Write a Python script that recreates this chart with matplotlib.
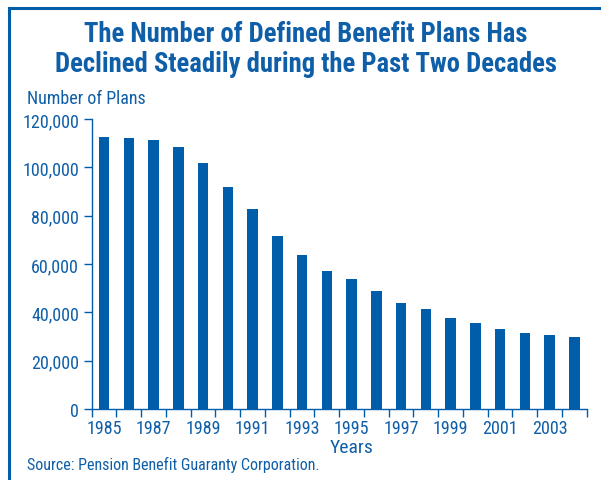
import matplotlib.pyplot as plt
from matplotlib.lines import Line2D
from matplotlib.ticker import FuncFormatter
from matplotlib import font_manager as fm

# данные
years = list(range(1985, 2005))
plans = [112500, 112100, 111300, 108400, 101800, 91900, 82800, 71600, 63700, 57100,
         53800, 48800, 43900, 41400, 37700, 35600, 33100, 31400, 30600, 29800]
label_years = [str(y) for y in years if y % 2 == 1]

BLUE = '#005DAA'
TEXT = '#0F5FA8'


def find_narrow(bold):
    # ищем узкий шрифт среди установленных
    prefs = ['Liberation Sans Narrow', 'Roboto Condensed', 'Open Sans Condensed',
             'DejaVu Sans']
    for name in prefs:
        for f in fm.fontManager.ttflist:
            fn = f.fname.lower()
            is_narrow = 'narrow' in fn or 'condensed' in fn or f.stretch in ('condensed', 'semi-condensed')
            is_bold = f.weight in ('bold', 700) or 'bold' in fn
            is_ital = 'italic' in fn or 'oblique' in fn
            if f.name == name and is_narrow and is_bold == bold and not is_ital:
                return f.fname
    return None


reg_path = find_narrow(False)
bold_path = find_narrow(True)


def fp(size, bold=False):
    path = bold_path if bold else reg_path
    if path:
        return fm.FontProperties(fname=path, size=size)
    return fm.FontProperties(family='DejaVu Sans', size=size,
                             weight='bold' if bold else 'normal')


fig = plt.figure(figsize=(6.01, 4.81), dpi=100)
ax = fig.add_axes([91.7 / 601, 1 - 410 / 481, 495 / 601, 290 / 481])

pos = list(range(len(years)))
ax.bar(pos, plans, width=0.43, color=BLUE)

ax.set_xlim(-0.5, len(years) - 0.5)
ax.set_ylim(0, 120000)

# риски по границам категорий, подписи по центрам столбцов
ax.set_xticks([p - 0.5 for p in pos] + [len(years) - 0.5])
ax.set_xticklabels([])
ax.set_xticks([p for p, y in zip(pos, years) if y % 2 == 1], minor=True)
ax.set_xticklabels(label_years, minor=True)
ax.tick_params(axis='x', which='major', length=6, width=1, color=BLUE, direction='out')
ax.tick_params(axis='x', which='minor', length=0, labelcolor=TEXT, pad=7)

ax.set_yticks(range(0, 120001, 20000))
ax.yaxis.set_major_formatter(FuncFormatter(lambda v, p: f'{int(v):,}'))
ax.tick_params(axis='y', length=6, width=1, color=BLUE, labelcolor=TEXT, pad=3)

for lab in ax.get_xticklabels(minor=True) + ax.get_yticklabels():
    lab.set_fontproperties(fp(13))

for s in ['top', 'right']:
    ax.spines[s].set_visible(False)
for s in ['left', 'bottom']:
    ax.spines[s].set_color(BLUE)
    ax.spines[s].set_linewidth(1)

# заголовок и подписи
fig.text(306 / 601, 1 - 35 / 481, 'The Number of Defined Benefit Plans Has',
         ha='center', va='center', fontproperties=fp(19.2, True), color=TEXT)
fig.text(306 / 601, 1 - 65 / 481, 'Declined Steadily during the Past Two Decades',
         ha='center', va='center', fontproperties=fp(19.2, True), color=TEXT)
fig.text(27 / 601, 1 - 99 / 481, 'Number of Plans', ha='left', va='center',
         fontproperties=fp(13), color=TEXT)
fig.text(352 / 601, 1 - 448 / 481, 'Years', ha='center', va='center',
         fontproperties=fp(14), color=TEXT)
fig.text(27 / 601, 1 - 465 / 481, 'Source: Pension Benefit Guaranty Corporation.',
         ha='left', va='center', fontproperties=fp(11.5), color=TEXT)

# рамка сверху и слева
fig.add_artist(Line2D([8.5 / 601, 1], [1 - 8.5 / 481, 1 - 8.5 / 481],
                      transform=fig.transFigure, color=BLUE, linewidth=2.2))
fig.add_artist(Line2D([8.5 / 601, 8.5 / 601], [0, 1 - 8.5 / 481],
                      transform=fig.transFigure, color=BLUE, linewidth=2.2))

fig.savefig('out.png', dpi=100, facecolor='white')
